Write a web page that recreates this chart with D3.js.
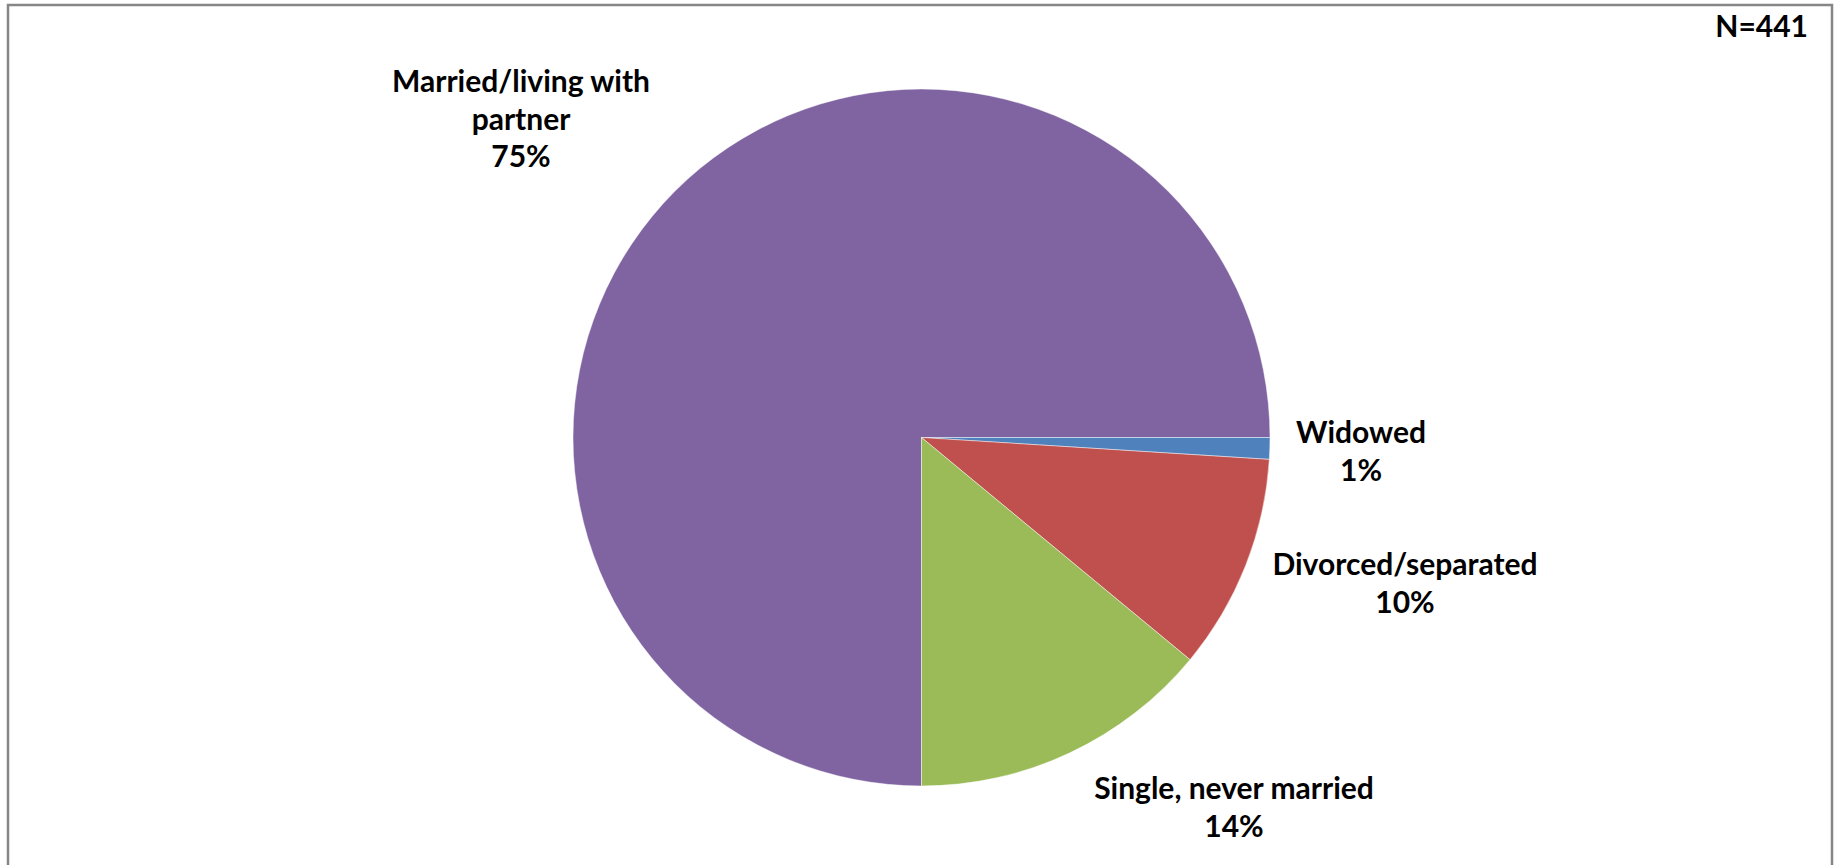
<!DOCTYPE html>
<html>
<head>
<meta charset="utf-8">
<script src="https://cdn.jsdelivr.net/npm/d3@7"></script>
<style>
  html, body { margin: 0; padding: 0; background: #ffffff; }
  svg { display: block; }
  text { font-family: Lato, "Open Sans", "Liberation Sans", sans-serif; font-weight: 700; fill: #000; }
</style>
</head>
<body>
<svg id="chart" width="1837" height="865"></svg>
<script>
// Marital status of respondents
const categories = ["Married/living with partner", "Widowed", "Divorced/separated", "Single, never married"];
const percents = [75, 1, 10, 14];
const labelLines = [["Married/living with", "partner"], ["Widowed"], ["Divorced/separated"], ["Single, never married"]];
const sampleNote = "N=441";
const colors = ["#8064A2", "#4F81BD", "#C0504D", "#9BBB59"];

const W = 1837, H = 865;
const svg = d3.select("#chart");

// chart-area frame
svg.append("rect")
  .attr("x", 8).attr("y", 5)
  .attr("width", 1824).attr("height", 880)
  .attr("fill", "none")
  .attr("stroke", "#868686")
  .attr("stroke-width", 2.5);

const cx = 921.5, cy = 437.5, R = 348.5;
const g = svg.append("g").attr("transform", `translate(${cx},${cy})`);

// slices run clockwise starting at six o'clock
const pie = d3.pie().sort(null).value(d => d).startAngle(Math.PI).endAngle(3 * Math.PI);
const arcs = pie(percents);
const arc = d3.arc().innerRadius(0).outerRadius(R);

g.selectAll("path.slice")
  .data(arcs)
  .join("path")
  .attr("class", "slice")
  .attr("d", arc)
  .attr("fill", (d, i) => colors[i])
  .attr("stroke", "#ffffff")
  .attr("stroke-opacity", 0.45)
  .attr("stroke-width", 1);

// label anchors (centre of the first baseline), relative to the pie centre
const labelAnchor = [
  { dx: 521 - cx, dy: 92 - cy },
  { dx: 1361 - cx, dy: 443 - cy },
  { dx: 1405 - cx, dy: 575 - cy },
  { dx: 1234 - cx, dy: 799 - cy }
];
const lineGap = 37.5;
const fontSize = 30;

arcs.forEach((a, i) => {
  const lines = labelLines[i].concat([percents[i] + "%"]);
  const t = g.append("text")
    .attr("x", labelAnchor[i].dx)
    .attr("y", labelAnchor[i].dy)
    .attr("text-anchor", "middle")
    .style("font-size", fontSize + "px");
  lines.forEach((ln, k) => {
    t.append("tspan")
      .attr("x", labelAnchor[i].dx)
      .attr("y", labelAnchor[i].dy + k * lineGap)
      .text(ln);
  });
});

svg.append("text")
  .attr("x", 1808).attr("y", 37)
  .attr("text-anchor", "end")
  .style("font-size", fontSize + "px")
  .text(sampleNote);
</script>
</body>
</html>
